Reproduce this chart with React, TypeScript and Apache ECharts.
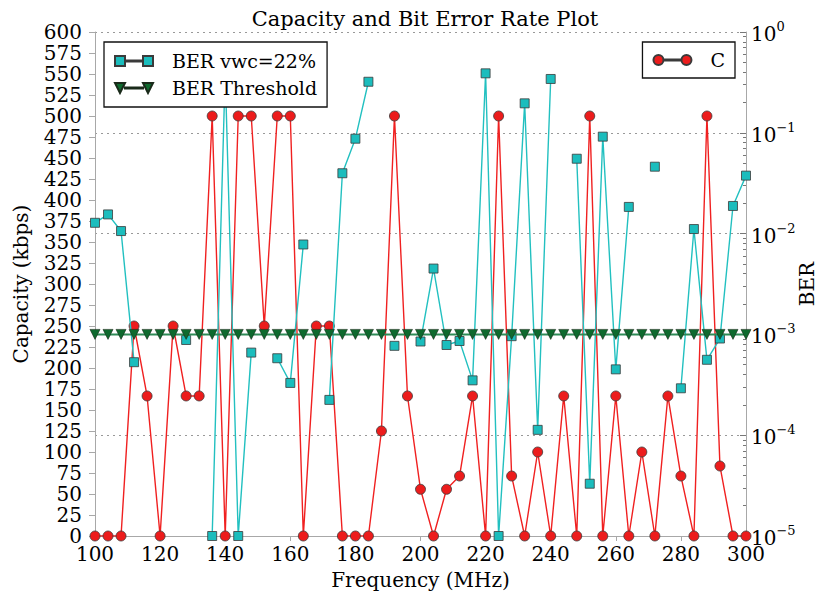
import React, { useEffect, useRef } from "react";
import * as echarts from "echarts";

const frequencies = [
  100, 104, 108, 112, 116, 120, 124, 128, 132, 136, 140, 144, 148, 152, 156, 160, 164,
  168, 172, 176, 180, 184, 188, 192, 196, 200, 204, 208, 212, 216, 220, 224, 228, 232,
  236, 240, 244, 248, 252, 256, 260, 264, 268, 272, 276, 280, 284, 288, 292, 296, 300,
];

const capacity = [
  0, 0, 0, 250, 166.7, 0, 250, 166.7, 166.7, 500, 0, 500, 500, 250, 500, 500, 0,
  250, 250, 0, 0, 0, 125, 500, 166.7, 55.6, 0, 55.6, 71.4, 166.7, 0, 500, 71.4, 0,
  100, 0, 166.7, 0, 500, 0, 166.7, 0, 100, 0, 166.7, 71.4, 0, 500, 83.3, 0, 0,
];

const berVwc22 = [
  0.0128, 0.0155, 0.0106, 5.3e-4, null, null, null, 8.8e-4, null, 1e-5, 0.4, 1e-5, 6.6e-4,
  null, 5.8e-4, 3.3e-4, 7.8e-3, null, 2.24e-4, 0.0397, 0.0874, 0.321, null, 7.7e-4, null,
  8.5e-4, 4.5e-3, 7.85e-4, 8.6e-4, 3.5e-4, 0.389, 1e-5, 9.6e-4, 0.196, 1.13e-4, 0.342, null,
  0.0553, 3.3e-5, 0.0916, 4.5e-4, 0.0184, null, 0.0461, null, 2.92e-4, 0.0111, 5.6e-4,
  9.1e-4, 0.0188, 0.0376,
];

const berThreshold = [
  0.001, 0.001, 0.001, 0.001, 0.001, 0.001, 0.001, 0.001, 0.001, 0.001, 0.001, 0.001, 0.001,
  0.001, 0.001, 0.001, 0.001, 0.001, 0.001, 0.001, 0.001, 0.001, 0.001, 0.001, 0.001, 0.001,
  0.001, 0.001, 0.001, 0.001, 0.001, 0.001, 0.001, 0.001, 0.001, 0.001, 0.001, 0.001, 0.001,
  0.001, 0.001, 0.001, 0.001, 0.001, 0.001, 0.001, 0.001, 0.001, 0.001, 0.001, 0.001,
];

const berMinorTickExponents = [
  -4.699, -4.523, -4.398, -4.301, -4.222, -4.155, -4.097, -4.046,
  -3.699, -3.523, -3.398, -3.301, -3.222, -3.155, -3.097, -3.046,
  -2.699, -2.523, -2.398, -2.301, -2.222, -2.155, -2.097, -2.046,
  -1.699, -1.523, -1.398, -1.301, -1.222, -1.155, -1.097, -1.046,
  -0.699, -0.523, -0.398, -0.301, -0.222, -0.155, -0.097, -0.046,
];

const SERIF = "DejaVu Serif";
const AXIS_GRAY = "#a8a8a8";

const pairs = (vals: (number | null)[]) =>
  frequencies.map((f, i) => [f, vals[i] === null ? "-" : vals[i]]);

const sqIcon = "path://M0,0h10v10h-10z M10,4.4h18v1.2h-18z M28,0h10v10h-10z";
const triIcon = "path://M0,0L10,0L5,10Z M10,4.4h18v1.2h-18z M28,0L38,0L33,10Z";
const circIcon =
  "path://M0,5a5,5 0 1,0 10,0a5,5 0 1,0 -10,0z M10,4.4h18v1.2h-18z M28,5a5,5 0 1,0 10,0a5,5 0 1,0 -10,0z";

export default function App() {
  const ref = useRef<HTMLDivElement>(null);
  useEffect(() => {
    if (!ref.current) return;
    const chart = echarts.init(ref.current, null, { renderer: "svg" });
    const legendBase = {
      orient: "vertical" as const,
      backgroundColor: "#fff",
      borderColor: "#111",
      borderWidth: 1.3,
      borderRadius: 0,
      itemWidth: 38,
      itemHeight: 10,
      itemGap: 5,
      symbolRotate: 0,
      textStyle: {
        fontFamily: SERIF,
        fontSize: 19,
        color: "#000",
        lineHeight: 22,
        padding: [0, 0, 0, 14],
      },
    };
    chart.setOption({
      animation: false,
      backgroundColor: "#fff",
      title: {
        text: "Capacity and Bit Error Rate Plot",
        left: 420,
        textAlign: "center",
        top: 3,
        textStyle: { fontFamily: SERIF, fontSize: 21, fontWeight: "normal", color: "#000" },
      },
      grid: {
        left: 95,
        right: 74,
        top: 32,
        bottom: 66,
        containLabel: false,
        outerBoundsMode: "none",
      },
      legend: [
        {
          ...legendBase,
          left: 104,
          top: 42,
          padding: [8, 10, 8, 10],
          data: [
            { name: "BER vwc=22%", icon: sqIcon },
            { name: "BER Threshold", icon: triIcon },
          ],
        },
        {
          ...legendBase,
          right: 85,
          top: 42,
          padding: [7, 10, 7, 10],
          data: [{ name: "C", icon: circIcon }],
        },
      ],
      xAxis: {
        type: "value",
        min: 100,
        max: 300,
        interval: 20,
        name: "Frequency (MHz)",
        nameLocation: "middle",
        nameGap: 34,
        nameMoveOverlap: false,
        nameTextStyle: { fontFamily: SERIF, fontSize: 20, color: "#000" },
        axisLine: { lineStyle: { color: AXIS_GRAY, width: 1 } },
        axisTick: { length: 5, lineStyle: { color: AXIS_GRAY } },
        axisLabel: { fontFamily: SERIF, fontSize: 20, color: "#000", margin: 8 },
        splitLine: { show: false },
      },
      yAxis: [
        {
          type: "value",
          min: 0,
          max: 600,
          interval: 25,
          name: "Capacity (kbps)",
          nameLocation: "middle",
          nameGap: 64,
          nameRotate: 90,
          nameMoveOverlap: false,
          nameTextStyle: { fontFamily: SERIF, fontSize: 20, color: "#000" },
          axisLine: { show: true, lineStyle: { color: AXIS_GRAY, width: 1 } },
          axisTick: { show: true, length: 6, lineStyle: { color: AXIS_GRAY } },
          axisLabel: { fontFamily: SERIF, fontSize: 20, lineHeight: 18, color: "#000", margin: 13 },
          splitLine: { show: false },
        },
        {
          type: "log",
          logBase: 10,
          min: 1e-5,
          max: 1,
          splitNumber: 5,
          position: "right",
          name: "BER",
          nameLocation: "middle",
          nameGap: 51,
          nameRotate: 90,
          nameMoveOverlap: false,
          nameTextStyle: { fontFamily: SERIF, fontSize: 20, color: "#000" },
          axisLine: { show: true, lineStyle: { color: AXIS_GRAY, width: 1 } },
          axisTick: { show: true, inside: true, length: 6, lineStyle: { color: "#777" } },
          axisLabel: {
            margin: 5,
            formatter: (v: number) => {
              const e = Math.round(Math.log10(v));
              return "{b|10}{s|" + (e < 0 ? "\u2212" : "") + Math.abs(e) + "}";
            },
            rich: {
              b: { fontFamily: SERIF, fontSize: 20, color: "#000", lineHeight: 24, verticalAlign: "bottom" },
              s: { fontFamily: SERIF, fontSize: 13, color: "#000", lineHeight: 24, verticalAlign: "top" },
            },
          },
          splitLine: {
            show: true,
            lineStyle: { color: "#999", type: [2, 4], width: 1.2 },
          },
        },
        {
          type: "value",
          min: -5,
          max: 0,
          position: "right",
          axisLine: { show: false },
          axisLabel: { show: false },
          splitLine: { show: false },
          axisTick: {
            show: true,
            inside: true,
            length: 3,
            customValues: berMinorTickExponents,
            lineStyle: { color: "#777" },
          },
        },
      ],
      series: [
        {
          name: "C",
          type: "line",
          yAxisIndex: 0,
          data: pairs(capacity),
          symbol: "circle",
          symbolSize: 10,
          lineStyle: { color: "#f02020", width: 1.4 },
          itemStyle: { color: "#ec1c1c", borderColor: "#3a3a3a", borderWidth: 0.8 },
          z: 2,
        },
        {
          name: "BER vwc=22%",
          type: "line",
          yAxisIndex: 1,
          data: pairs(berVwc22),
          connectNulls: false,
          symbol: "rect",
          symbolSize: 9,
          lineStyle: { color: "#22c0c0", width: 1.4 },
          itemStyle: { color: "#1bbdbd", borderColor: "#3a3a3a", borderWidth: 0.8 },
          z: 3,
        },
        {
          name: "BER Threshold",
          type: "line",
          yAxisIndex: 1,
          data: pairs(berThreshold),
          symbol: "triangle",
          symbolRotate: 180,
          symbolSize: 10,
          lineStyle: { color: "#2e8b57", width: 2 },
          itemStyle: { color: "#0e6a2e", borderColor: "#1a2a1a", borderWidth: 0.6 },
          z: 4,
        },
      ],
    });
    return () => chart.dispose();
  }, []);
  return (
    <div
      ref={ref}
      style={{ position: "fixed", left: 0, top: 0, width: 820, height: 602 }}
    />
  );
}
